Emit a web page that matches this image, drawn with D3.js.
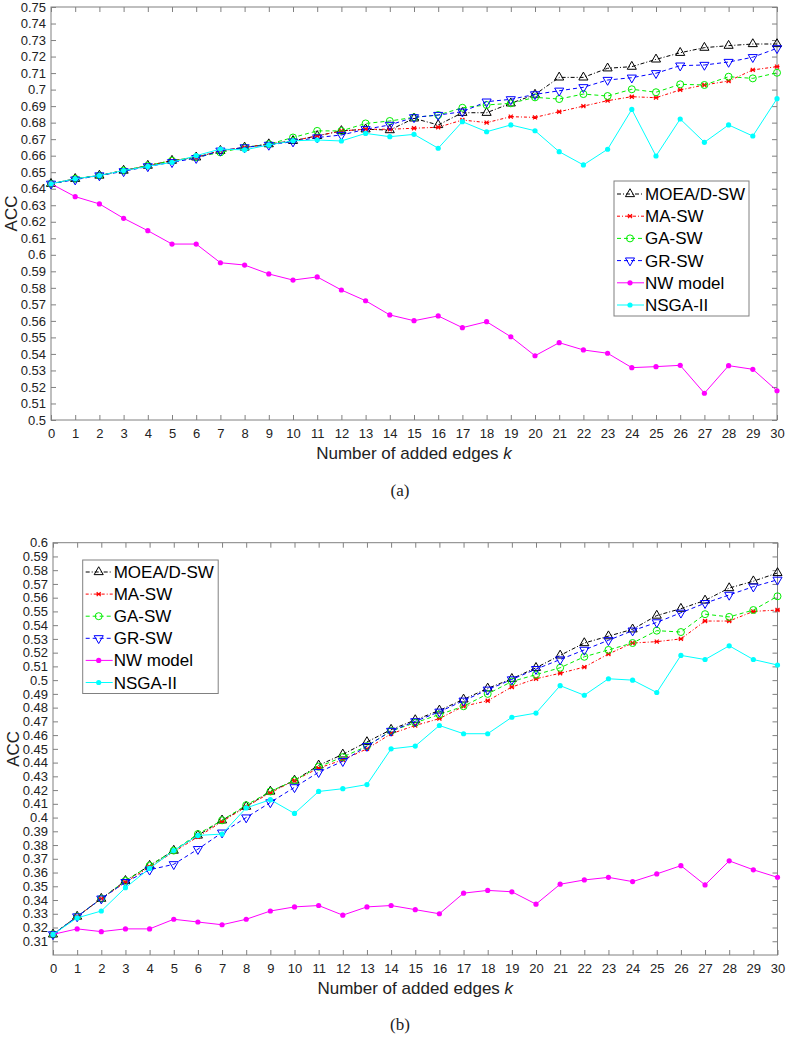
<!DOCTYPE html>
<html>
<head>
<meta charset="utf-8">
<script src="https://cdn.jsdelivr.net/npm/d3@7"></script>
<style>
html,body{margin:0;padding:0;background:#fff;}
svg{display:block;}
</style>
</head>
<body>
<svg id="chart" width="789" height="1040"></svg>
<script>
// ---------- DATA ----------
const kValues = [0,1,2,3,4,5,6,7,8,9,10,11,12,13,14,15,16,17,18,19,20,21,22,23,24,25,26,27,28,29,30];
const xTickLabels = ["0","1","2","3","4","5","6","7","8","9","10","11","12","13","14","15","16","17","18","19","20","21","22","23","24","25","26","27","28","29","30"];
const seriesNames = ["MOEA/D-SW","MA-SW","GA-SW","GR-SW","NW model","NSGA-II"];

// Panel (a)
const yTicksA = [0.5,0.51,0.52,0.53,0.54,0.55,0.56,0.57,0.58,0.59,0.6,0.61,0.62,0.63,0.64,0.65,0.66,0.67,0.68,0.69,0.7,0.71,0.72,0.73,0.74,0.75];
const yTickLabelsA = ["0.5","0.51","0.52","0.53","0.54","0.55","0.56","0.57","0.58","0.59","0.6","0.61","0.62","0.63","0.64","0.65","0.66","0.67","0.68","0.69","0.7","0.71","0.72","0.73","0.74","0.75"];
const moeaA = [0.643,0.646,0.648,0.651,0.654,0.657,0.659,0.663,0.665,0.667,0.669,0.672,0.675,0.676,0.6755,0.6826,0.6786,0.686,0.686,0.6917,0.697,0.7074,0.7074,0.7129,0.7139,0.7183,0.7223,0.7254,0.7266,0.7276,0.7276];
const maA   = [0.643,0.646,0.648,0.651,0.654,0.657,0.659,0.663,0.665,0.667,0.669,0.672,0.675,0.676,0.676,0.6766,0.6772,0.6816,0.680,0.6836,0.6832,0.6866,0.690,0.6933,0.6957,0.6951,0.6998,0.7028,0.7052,0.7119,0.7139];
const gaA   = [0.643,0.646,0.648,0.651,0.654,0.657,0.659,0.662,0.665,0.667,0.671,0.675,0.675,0.6795,0.681,0.6832,0.6846,0.689,0.6907,0.6917,0.6953,0.6943,0.6973,0.6961,0.7002,0.6984,0.7032,0.7028,0.7078,0.7068,0.7102];
const grA   = [0.643,0.6455,0.648,0.6505,0.6535,0.656,0.6585,0.663,0.665,0.6665,0.6685,0.671,0.6725,0.676,0.6786,0.6832,0.6846,0.6866,0.6927,0.6941,0.6971,0.6993,0.7014,0.7058,0.7072,0.7099,0.7145,0.7149,0.7167,0.7196,0.725];
const nwA   = [0.643,0.6352,0.6308,0.6221,0.6146,0.6065,0.6065,0.5952,0.5938,0.5884,0.5847,0.5866,0.5787,0.5722,0.5636,0.5601,0.563,0.5559,0.5595,0.5504,0.5389,0.5468,0.5424,0.5404,0.5317,0.5323,0.5331,0.5162,0.5329,0.5307,0.5177];
const nsgaA = [0.643,0.646,0.648,0.651,0.6535,0.656,0.660,0.664,0.6635,0.6665,0.669,0.6695,0.6689,0.6735,0.6715,0.6729,0.6645,0.6806,0.6745,0.6786,0.6751,0.6624,0.6544,0.6639,0.688,0.6598,0.6822,0.6681,0.6786,0.6719,0.6945];

// Panel (b)
const yTicksB = [0.31,0.32,0.33,0.34,0.35,0.36,0.37,0.38,0.39,0.4,0.41,0.42,0.43,0.44,0.45,0.46,0.47,0.48,0.49,0.5,0.51,0.52,0.53,0.54,0.55,0.56,0.57,0.58,0.59,0.6];
const yTickLabelsB = ["0.31","0.32","0.33","0.34","0.35","0.36","0.37","0.38","0.39","0.4","0.41","0.42","0.43","0.44","0.45","0.46","0.47","0.48","0.49","0.5","0.51","0.52","0.53","0.54","0.55","0.56","0.57","0.58","0.59","0.6"];
const moeaB = [0.315,0.328,0.341,0.354,0.365,0.376,0.387,0.398,0.408,0.419,0.427,0.438,0.446,0.455,0.464,0.471,0.478,0.486,0.494,0.501,0.509,0.518,0.527,0.532,0.537,0.547,0.552,0.558,0.567,0.572,0.578];
const maB   = [0.315,0.328,0.341,0.353,0.364,0.375,0.386,0.397,0.408,0.418,0.427,0.436,0.442,0.450,0.461,0.467,0.472,0.481,0.485,0.495,0.501,0.505,0.5095,0.519,0.527,0.528,0.530,0.543,0.543,0.550,0.551];
const gaB   = [0.315,0.328,0.341,0.354,0.365,0.376,0.388,0.398,0.409,0.419,0.427,0.437,0.444,0.452,0.463,0.469,0.475,0.481,0.490,0.499,0.504,0.509,0.517,0.522,0.527,0.536,0.535,0.548,0.546,0.551,0.561];
const grB   = [0.315,0.328,0.341,0.353,0.362,0.366,0.377,0.389,0.400,0.411,0.422,0.433,0.441,0.452,0.463,0.470,0.477,0.485,0.493,0.5005,0.508,0.515,0.522,0.529,0.536,0.542,0.549,0.556,0.562,0.568,0.573];
const nwB   = [0.315,0.319,0.317,0.319,0.319,0.326,0.324,0.322,0.326,0.332,0.335,0.336,0.329,0.335,0.336,0.333,0.330,0.345,0.347,0.346,0.337,0.3515,0.3546,0.3565,0.3534,0.359,0.365,0.351,0.3685,0.362,0.3565];
const nsgaB = [0.315,0.327,0.332,0.349,0.363,0.376,0.387,0.388,0.407,0.413,0.403,0.419,0.421,0.424,0.450,0.452,0.467,0.461,0.461,0.473,0.476,0.496,0.489,0.501,0.500,0.491,0.518,0.515,0.525,0.515,0.511];

// ---------- STYLES ----------
const styles = [
  {color:"#000000", dash:"4,2,1,2", marker:"triUp"},
  {color:"#ff0000", dash:"3,2,1,2", marker:"x"},
  {color:"#00ee00", dash:"4,3", marker:"circle"},
  {color:"#0000ff", dash:"4,3", marker:"triDown"},
  {color:"#ff00ff", dash:null, marker:"dot"},
  {color:"#00ffff", dash:null, marker:"dot"}
];
const FONT = "'Liberation Sans', Arial, Helvetica, sans-serif";
const AXIS_COLOR = "#808080";
const TEXT_COLOR = "#222";

const svg = d3.select("#chart");

function drawMarker(g, type, x, y, color) {
  if (type === "triUp") {
    g.append("path").attr("d", d3.symbol(d3.symbolTriangle, 36)())
      .attr("transform", `translate(${x},${y})`)
      .attr("fill", "none").attr("stroke", color).attr("stroke-width", 1);
  } else if (type === "triDown") {
    g.append("path").attr("d", d3.symbol(d3.symbolTriangle, 36)())
      .attr("transform", `translate(${x},${y}) rotate(180)`)
      .attr("fill", "none").attr("stroke", color).attr("stroke-width", 1);
  } else if (type === "circle") {
    g.append("circle").attr("cx", x).attr("cy", y).attr("r", 3.5)
      .attr("fill", "none").attr("stroke", color).attr("stroke-width", 1);
  } else if (type === "x") {
    const s = 2;
    g.append("path").attr("d", `M${x-s},${y-s}L${x+s},${y+s}M${x-s},${y+s}L${x+s},${y-s}M${x-s-0.5},${y}L${x+s+0.5},${y}`)
      .attr("stroke", color).attr("stroke-width", 1.2).attr("fill", "none");
  } else if (type === "dot") {
    g.append("circle").attr("cx", x).attr("cy", y).attr("r", 2.6).attr("fill", color);
  }
}

function drawPanel(cfg) {
  const {left, right, top, bottom, yDomain, yTicks, yTickLabels, series, legend, label, labelY} = cfg;
  const x = d3.scaleLinear().domain([0, 30]).range([left, right]);
  const y = d3.scaleLinear().domain(yDomain).range([bottom, top]);
  const g = svg.append("g");

  // box
  g.append("rect").attr("x", left).attr("y", top).attr("width", right-left).attr("height", bottom-top)
    .attr("fill", "none").attr("stroke", AXIS_COLOR).attr("stroke-width", 1);

  // axes via d3 axis (inner ticks)
  const xAxisB = d3.axisBottom(x).tickValues(kValues).tickSize(-5).tickPadding(9)
    .tickFormat((d,i) => xTickLabels[i]);
  const gxb = g.append("g").attr("transform", `translate(0,${bottom})`).call(xAxisB);
  const xAxisT = d3.axisTop(x).tickValues(kValues).tickSize(-5).tickFormat("");
  const gxt = g.append("g").attr("transform", `translate(0,${top})`).call(xAxisT);
  const yAxisL = d3.axisLeft(y).tickValues(yTicks).tickSize(-5).tickPadding(5)
    .tickFormat((d,i) => yTickLabels[i]);
  const gyl = g.append("g").attr("transform", `translate(${left},0)`).call(yAxisL);
  const yAxisR = d3.axisRight(y).tickValues(yTicks).tickSize(-5).tickFormat("");
  const gyr = g.append("g").attr("transform", `translate(${right},0)`).call(yAxisR);
  [gxb, gxt, gyl, gyr].forEach(a => {
    a.select(".domain").remove();
    a.selectAll(".tick line").attr("stroke", AXIS_COLOR);
    a.selectAll(".tick text").attr("fill", TEXT_COLOR).style("font-family", FONT).style("font-size", "13px");
  });

  // axis titles
  g.append("text").attr("x", (left+right)/2).attr("y", bottom + 39)
    .attr("text-anchor", "middle").attr("fill", TEXT_COLOR)
    .style("font-family", FONT).style("font-size", "17px")
    .html('Number of added edges <tspan font-style="italic">k</tspan>');
  g.append("text").attr("transform", `translate(${left-34},${(top+bottom)/2}) rotate(-90)`)
    .attr("text-anchor", "middle").attr("fill", TEXT_COLOR)
    .style("font-family", FONT).style("font-size", "17px").text("ACC");

  // series
  series.forEach((vals, si) => {
    const st = styles[si];
    const line = d3.line().x((d,i) => x(kValues[i])).y(d => y(d));
    g.append("path").datum(vals).attr("d", line)
      .attr("fill", "none").attr("stroke", st.color).attr("stroke-width", 1)
      .attr("stroke-dasharray", st.dash);
    const mg = g.append("g");
    vals.forEach((v, i) => drawMarker(mg, st.marker, x(kValues[i]), y(v), st.color));
  });

  // legend
  const lg = g.append("g");
  lg.append("rect").attr("x", legend.x).attr("y", legend.y).attr("width", legend.w).attr("height", legend.h)
    .attr("fill", "#fff").attr("stroke", AXIS_COLOR).attr("stroke-width", 1);
  seriesNames.forEach((name, i) => {
    const st = styles[i];
    const cy = legend.y + legend.first + i * legend.step;
    lg.append("line").attr("x1", legend.x + 3).attr("x2", legend.x + 30).attr("y1", cy).attr("y2", cy)
      .attr("stroke", st.color).attr("stroke-width", 1).attr("stroke-dasharray", st.dash);
    drawMarker(lg, st.marker, legend.x + 16, cy, st.color);
    lg.append("text").attr("x", legend.x + 31).attr("y", cy + 6)
      .attr("fill", "#000").style("font-family", FONT).style("font-size", "17px").text(name);
  });

  // panel label
  svg.append("text").attr("x", 400).attr("y", labelY).attr("text-anchor", "middle")
    .attr("fill", "#222").style("font-family", "'Liberation Serif', 'Times New Roman', serif")
    .style("font-size", "17px").text(label);
}

drawPanel({
  left: 51, right: 777, top: 7, bottom: 420,
  yDomain: [0.5, 0.75], yTicks: yTicksA, yTickLabels: yTickLabelsA,
  series: [moeaA, maA, gaA, grA, nwA, nsgaA],
  legend: {x: 614, y: 181, w: 135, h: 135, first: 13, step: 22.2},
  label: "(a)", labelY: 496
});
drawPanel({
  left: 53, right: 777.5, top: 542.7, bottom: 955,
  yDomain: [0.3, 0.6], yTicks: yTicksB, yTickLabels: yTickLabelsB,
  series: [moeaB, maB, gaB, grB, nwB, nsgaB],
  legend: {x: 82.7, y: 560, w: 135.5, h: 133.5, first: 12, step: 22.1},
  label: "(b)", labelY: 1030
});
</script>
</body>
</html>
